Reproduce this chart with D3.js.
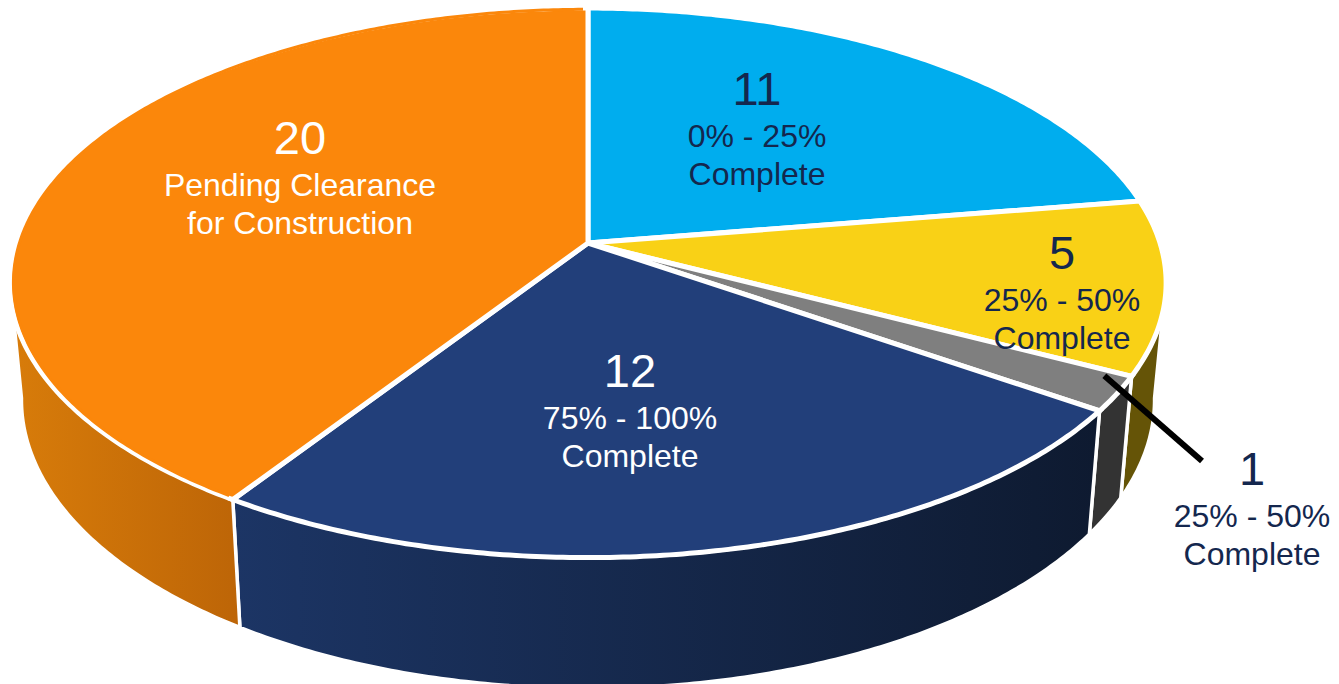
<!DOCTYPE html>
<html>
<head>
<meta charset="utf-8">
<script src="https://cdn.jsdelivr.net/npm/d3@7"></script>
<style>
  html, body { margin: 0; padding: 0; background: #fff; overflow: hidden; }
  text { font-family: "Liberation Sans", Arial, sans-serif; text-anchor: middle; }
</style>
</head>
<body>
<svg id="chart" width="1339" height="684"></svg>
<script>
// values, clockwise from 12 o'clock
const counts = [11, 5, 1, 12, 20];
const statusLines = [
  ["0% - 25%", "Complete"],
  ["25% - 50%", "Complete"],
  ["25% - 50%", "Complete"],
  ["75% - 100%", "Complete"],
  ["Pending Clearance", "for Construction"]
];

const topColors = ["#00adee", "#f9d116", "#7f7f7f", "#223f7a", "#fb870b"];
const wallColors = [["#00adee", "#00adee"], ["#655407", "#655407"], ["#333333", "#333333"], ["#1c3565", "#0e1a30"], ["#d87c0a", "#bd6507"]];
const textColors = ["#14274e", "#14274e", "#14274e", "#ffffff", "#ffffff"];
const labelPos = [[757, 105], [1062, 269], [1252, 485], [630, 387], [300, 154]];

const svg = d3.select("#chart");
const defs = svg.append("defs");

// perspective set up: apex of the pie and the lid's radii
const cx = 588, cy = 243, rx = 572, ry = 269, persp = 0.145;

// the bottom of the cylinder is the lid moved down and slightly shrunk
const baseX = d3.scaleLinear().domain([cx - 100, cx + 100]).range([cx - 98, cx + 98]);
const baseY = d3.scaleLinear().domain([cy, cy + 100]).range([358, 463]);

function lid(angle, r = 1) {
  const u = Math.sin(angle) * r, v = -Math.cos(angle) * r;
  const w = 1 - persp * v;
  return [cx + rx * u / w, cy + ry * v / w];
}
const base = angle => {
  const p = lid(angle);
  return [baseX(p[0]), baseY(p[1])];
};
function arcAngles(a, b) {
  const n = Math.max(2, Math.ceil((b - a) / 0.01));
  return d3.range(n + 1).map(i => a + (b - a) * i / n);
}

const pie = d3.pie().sort(null).value(d => d);
const slices = pie(counts);
const line = d3.line();

// only the front of the wall shows
const wallFrom = 98 * Math.PI / 180, wallTo = 262 * Math.PI / 180;

const walls = svg.append("g");
slices.forEach((d, i) => {
  const a = Math.max(d.startAngle, wallFrom), b = Math.min(d.endAngle, wallTo);
  if (b <= a) return;
  const grad = defs.append("linearGradient").attr("id", "wall" + i);
  grad.append("stop").attr("offset", 0).attr("stop-color", wallColors[i][0]);
  grad.append("stop").attr("offset", 1).attr("stop-color", wallColors[i][1]);
  const angles = arcAngles(a, b);
  const pts = angles.map(t => lid(t)).concat(angles.slice().reverse().map(base));
  walls.append("path")
    .attr("d", line(pts) + "Z")
    .attr("fill", `url(#wall${i})`)
    .attr("stroke", "#fff")
    .attr("stroke-width", 3.5)
    .attr("stroke-linejoin", "round");
});

// lid
svg.append("g").selectAll("path")
  .data(slices)
  .enter()
  .append("path")
  .attr("d", d => line([[cx, cy]].concat(arcAngles(d.startAngle, d.endAngle).map(t => lid(t)))) + "Z")
  .attr("fill", (d, i) => topColors[i])
  .attr("stroke", "#fff")
  .attr("stroke-width", 5)
  .attr("stroke-linejoin", "miter");

// the orange rim is thinner than the spokes, so paint part of the white back over
svg.append("path")
  .attr("d", line(arcAngles(slices[4].startAngle + 0.012, slices[4].endAngle - 0.01).map(t => lid(t, 0.994))))
  .attr("fill", "none")
  .attr("stroke", topColors[4])
  .attr("stroke-width", 3);

// leader for the small slice
const leaderStart = lid(slices[2].startAngle + (slices[2].endAngle - slices[2].startAngle) * 0.15, 0.96);
svg.append("line")
  .attr("x1", leaderStart[0])
  .attr("y1", leaderStart[1])
  .attr("x2", 1202)
  .attr("y2", 461)
  .attr("stroke", "#000")
  .attr("stroke-width", 6);

// labels
const labels = svg.append("g").selectAll("g")
  .data(counts)
  .enter()
  .append("g")
  .attr("transform", (d, i) => `translate(${labelPos[i]})`)
  .attr("fill", (d, i) => textColors[i]);

labels.append("text")
  .attr("font-size", 47)
  .text(d => d);
labels.append("text")
  .attr("y", 42)
  .attr("font-size", 32)
  .text((d, i) => statusLines[i][0]);
labels.append("text")
  .attr("y", 80)
  .attr("font-size", 32)
  .text((d, i) => statusLines[i][1]);
</script>
</body>
</html>
